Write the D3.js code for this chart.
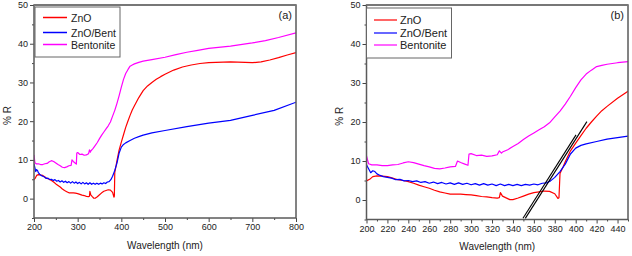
<!DOCTYPE html>
<html><head><meta charset="utf-8">
<script src="https://cdn.jsdelivr.net/npm/d3@7"></script>
<style>
html,body{margin:0;padding:0;background:#fff;}
svg{display:block;font-family:"Liberation Sans",Arial,sans-serif;}
</style></head>
<body>
<svg id="chart" width="632" height="256"></svg>
<script>
// ---------------- data ----------------
const seriesNames = ["ZnO", "ZnO/Bent", "Bentonite"];
const seriesColors = ["#ff0000", "#0000ff", "#ff00ff"];

const znoWl = [200,203,206,210,215,220,225,230,235,240,245,250,255,260,265,270,275,280,285,290,295,300,305,310,315,320,325,327,328,330,333,337,340,345,350,355,360,365,370,375,380,383,384,385,388,390,395,400,405,410,415,420,425,430,440,450,460,470,480,490,500,520,540,560,580,600,650,700,720,740,760,780,800];
const znoR  = [4.9,5.3,6.0,6.2,6.1,6.0,5.6,5.2,5.0,4.7,4.3,3.8,3.4,3.0,2.5,2.1,1.8,1.5,1.5,1.5,1.4,1.3,1.1,0.9,0.8,0.6,0.5,0.6,1.9,1.0,0.6,0.1,0.1,0.5,1.0,1.5,1.9,2.1,2.3,2.2,1.6,0.4,0.6,6.8,8.5,9.8,12.6,14.6,16.5,18.4,20.0,21.5,22.9,24.0,26.1,27.9,29.1,30.0,30.8,31.5,32.1,33.2,34.0,34.5,34.9,35.1,35.3,35.1,35.3,35.8,36.4,37.1,37.7];

const znoBentWl = [200,202,204,206,208,210,213,216,220,224,228,232,236,240,244,248,252,256,260,264,268,272,276,280,284,288,292,296,300,304,308,312,316,320,324,328,332,336,340,344,348,352,356,360,364,368,372,376,380,385,390,395,400,405,410,420,430,440,450,470,500,550,600,650,700,750,800];
const znoBentR  = [9.0,8.0,7.0,7.5,7.3,6.7,6.3,6.0,5.8,5.6,5.2,5.3,4.9,5.0,4.7,4.9,4.5,4.7,4.3,4.6,4.2,4.5,4.1,4.4,4.0,4.4,4.0,4.3,3.9,4.2,3.8,4.2,3.8,4.1,3.7,4.1,3.7,4.0,3.7,4.0,3.7,4.0,3.8,4.1,3.9,4.3,4.4,4.9,5.8,7.3,9.2,11.8,13.3,14.0,14.4,15.0,15.6,16.0,16.4,17.0,17.6,18.6,19.5,20.2,21.5,22.8,24.9];

const bentWl = [200,202,205,210,215,220,225,230,235,240,245,250,255,260,265,270,275,280,285,287,290,294,297,298,300,305,310,315,320,325,327,329,330,335,340,345,350,355,360,365,370,375,380,385,390,395,400,405,410,415,420,425,430,440,450,470,500,525,550,575,600,650,700,730,760,800];
const bentR  = [11.3,9.3,9.0,9.0,8.8,8.8,9.0,9.1,9.5,9.8,9.6,9.2,8.8,8.5,8.1,8.0,8.2,8.5,8.6,10.0,9.6,9.2,8.9,11.8,11.9,11.4,11.5,11.2,11.3,11.6,12.6,12.0,12.3,12.9,13.7,14.5,15.5,16.4,17.2,18.0,18.8,19.8,21.3,22.8,24.6,26.6,28.8,30.8,32.3,33.3,34.2,34.5,34.8,35.2,35.5,35.9,36.5,37.2,37.8,38.3,38.8,39.4,40.2,40.8,41.6,42.8];

const yTicks = [0, 10, 20, 30, 40, 50];
const xTicksA = [200, 300, 400, 500, 600, 700, 800];
const xTicksB = [200, 220, 240, 260, 280, 300, 320, 340, 360, 380, 400, 420, 440];
// tangent (extrapolation) lines drawn in panel (b): [wavelength, %R] endpoints
const tangentLines = [
  [[349.6, -4.7], [400.3, 16.7]],
  [[351.8, -4.7], [410.7, 20.1]]
];

// ---------------- drawing ----------------
const svg = d3.select("#chart");
svg.append("rect").attr("width", 632).attr("height", 256).attr("fill", "#fff");

const allSeries = [
  {wl: znoWl, r: znoR},
  {wl: znoBentWl, r: znoBentR},
  {wl: bentWl, r: bentR}
];

function panel(cfg) {
  const x = d3.scaleLinear().domain(cfg.xDomain).range([cfg.x0, cfg.x1]);
  const y = d3.scaleLinear().domain([-5, 50]).range([cfg.y1, cfg.y0]);
  const g = svg.append("g");
  const clipId = "clip" + cfg.id;
  svg.append("clipPath").attr("id", clipId).append("rect")
    .attr("x", cfg.x0).attr("y", cfg.y0).attr("width", cfg.x1 - cfg.x0).attr("height", cfg.y1 - cfg.y0);

  const plot = g.append("g").attr("clip-path", `url(#${clipId})`);
  const line = d3.line().x(d => x(d[0])).y(d => y(d[1]));
  [2, 0, 1].forEach(i => {
    const s = allSeries[i];
    const pts = s.wl.map((w, k) => [w, s.r[k]]);
    plot.append("path").attr("d", line(pts)).attr("fill", "none")
      .attr("stroke", seriesColors[i]).attr("stroke-width", 1.2).attr("stroke-linejoin", "round");
  });
  if (cfg.tangents) {
    cfg.tangents.forEach(t => {
      plot.append("path").attr("d", line(t)).attr("fill", "none")
        .attr("stroke", "#000").attr("stroke-width", 1.1);
    });
  }

  // axes
  const xAxis = d3.axisBottom(x).tickValues(cfg.xTicks).tickSize(4).tickSizeOuter(0).tickPadding(2);
  const gx = g.append("g").attr("transform", `translate(0,${cfg.y1})`).call(xAxis);
  gx.select(".domain").remove();
  gx.selectAll("line").attr("stroke", "#444");
  gx.selectAll("text").attr("font-size", 9).attr("fill", "#222")
    .attr("font-family", "Liberation Sans, Arial, sans-serif");
  const xMinor = d3.axisBottom(x).tickValues(cfg.xMinor).tickSize(2).tickFormat("");
  const gxm = g.append("g").attr("transform", `translate(0,${cfg.y1})`).call(xMinor);
  gxm.select(".domain").remove();
  gxm.selectAll("line").attr("stroke", "#444");

  const yAxis = d3.axisLeft(y).tickValues(yTicks).tickSize(4).tickSizeOuter(0).tickPadding(2);
  const gy = g.append("g").attr("transform", `translate(${cfg.x0},0)`).call(yAxis);
  gy.select(".domain").remove();
  gy.selectAll("line").attr("stroke", "#444");
  gy.selectAll("text").attr("font-size", 9).attr("fill", "#222")
    .attr("font-family", "Liberation Sans, Arial, sans-serif");
  const yMinor = d3.axisLeft(y).tickValues([-5, 5, 15, 25, 35, 45]).tickSize(2).tickFormat("");
  const gym = g.append("g").attr("transform", `translate(${cfg.x0},0)`).call(yMinor);
  gym.select(".domain").remove();
  gym.selectAll("line").attr("stroke", "#444");

  // frame
  g.append("rect").attr("x", cfg.x0).attr("y", cfg.y0)
    .attr("width", cfg.x1 - cfg.x0).attr("height", cfg.y1 - cfg.y0)
    .attr("fill", "none").attr("stroke", "#5a5a5a").attr("stroke-width", 1.5);
  g.append("line").attr("x1", cfg.x0).attr("x2", cfg.x1).attr("y1", cfg.y0).attr("y2", cfg.y0)
    .attr("stroke", "#777").attr("stroke-width", 2);

  // titles
  g.append("text").attr("x", (cfg.x0 + cfg.x1) / 2).attr("y", cfg.xTitleY)
    .attr("text-anchor", "middle").attr("font-size", 10).attr("fill", "#222")
    .text("Wavelength (nm)");
  g.append("text").attr("transform", `translate(${cfg.yTitleX},${(cfg.y0 + cfg.y1) / 2 + 4}) rotate(-90)`)
    .attr("text-anchor", "middle").attr("font-size", 10).attr("fill", "#222")
    .text("% R");
  g.append("text").attr("x", cfg.x1 - 4).attr("y", 19)
    .attr("text-anchor", "end").attr("font-size", 11).attr("fill", "#222")
    .text(cfg.label);

  // legend
  const L = cfg.legend;
  g.append("rect").attr("x", L.x).attr("y", L.y).attr("width", L.w).attr("height", L.h)
    .attr("fill", "#fff").attr("stroke", "#666").attr("stroke-width", 1);
  seriesNames.forEach((name, i) => {
    const yy = L.y + L.rows[i];
    g.append("line").attr("x1", L.lx0).attr("x2", L.lx1).attr("y1", yy).attr("y2", yy)
      .attr("stroke", seriesColors[i]).attr("stroke-width", L.lw);
    g.append("text").attr("x", L.tx).attr("y", yy + 4).attr("font-size", L.fs)
      .attr("fill", "#222").text(name);
  });
}

panel({
  id: "a", label: "(a)",
  xDomain: [200, 800], x0: 34, x1: 296, y0: 5, y1: 218,
  xTicks: xTicksA, xMinor: [250, 350, 450, 550, 650, 750],
  xTitleY: 249, yTitleX: 11,
  legend: {x: 35, y: 7, w: 85, h: 50, rows: [10.5, 25.5, 37.5], lx0: 43, lx1: 67, tx: 71, fs: 10.5, lw: 1.5}
});
panel({
  id: "b", label: "(b)",
  xDomain: [200, 450], x0: 366.5, x1: 628, y0: 5, y1: 219.5,
  xTicks: xTicksB, xMinor: [210, 230, 250, 270, 290, 310, 330, 350, 370, 390, 410, 430, 450],
  xTitleY: 250, yTitleX: 343,
  legend: {x: 366.5, y: 8, w: 85, h: 50, rows: [12, 25, 37], lx0: 374, lx1: 397, tx: 400, fs: 11, lw: 1.2},
  tangents: tangentLines
});
</script>
</body></html>
